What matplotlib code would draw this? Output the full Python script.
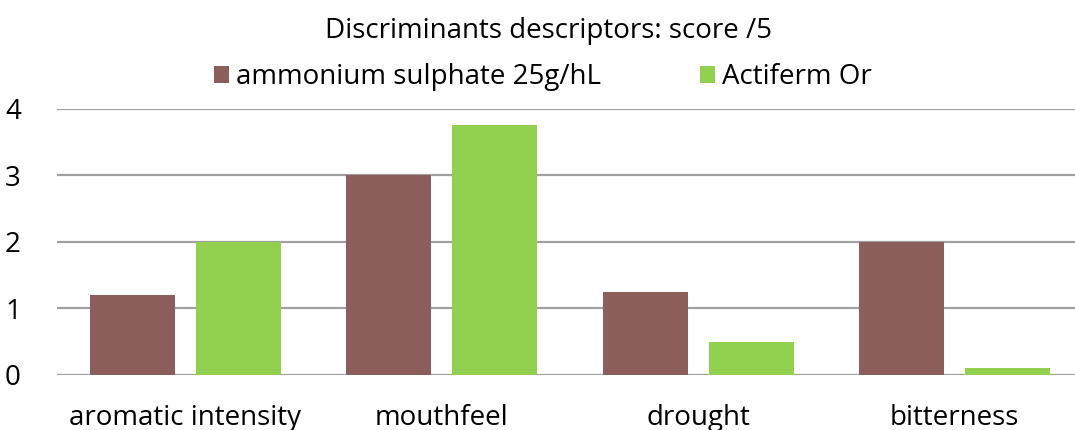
import numpy as np
import matplotlib.pyplot as plt

categories = ["aromatic intensity", "mouthfeel", "drought", "bitterness"]
ammonium = [1.2, 3.0, 1.25, 2.0]
actiferm = [2.0, 3.75, 0.5, 0.1]
series_names = ["ammonium sulphate 25g/hL", "Actiferm Or"]

plt.rcParams['font.family'] = ['Open Sans', 'DejaVu Sans']

fig = plt.figure(figsize=(10.75, 4.3), dpi=100)
# plot area runs a little past the right edge, as in the cropped original
ax = fig.add_axes([0.053, 0.128, 0.9544, 0.619])

x = np.arange(len(categories))
w = 0.331
ax.bar(x - 0.207, ammonium, w, color="#8B5E5C", label=series_names[0], zorder=3)
ax.bar(x + 0.207, actiferm, w, color="#92D050", label=series_names[1], zorder=3)

ax.set_xlim(-0.5, 3.5)
ax.set_ylim(0, 4)
ax.set_yticks([0, 1, 2, 3, 4])
ax.set_xticks(x)
ax.set_xticklabels(categories)
ax.tick_params(axis='both', length=0, labelsize=20)
ax.tick_params(axis='y', pad=26)
ax.tick_params(axis='x', pad=21)
ax.grid(axis='y', color="#A0A0A0", linewidth=1.6, zorder=0)
for s in ax.spines.values():
    s.set_visible(False)

fig.text(0.51, 0.928, "Discriminants descriptors: score /5", ha='center', va='center', fontsize=20)
fig.legend(loc='center', bbox_to_anchor=(0.505, 0.82), ncol=2, frameon=False, fontsize=20,
           handlelength=0.55, handleheight=0.55, handletextpad=0.25, columnspacing=3.55)

fig.savefig("out.png", dpi=100)
